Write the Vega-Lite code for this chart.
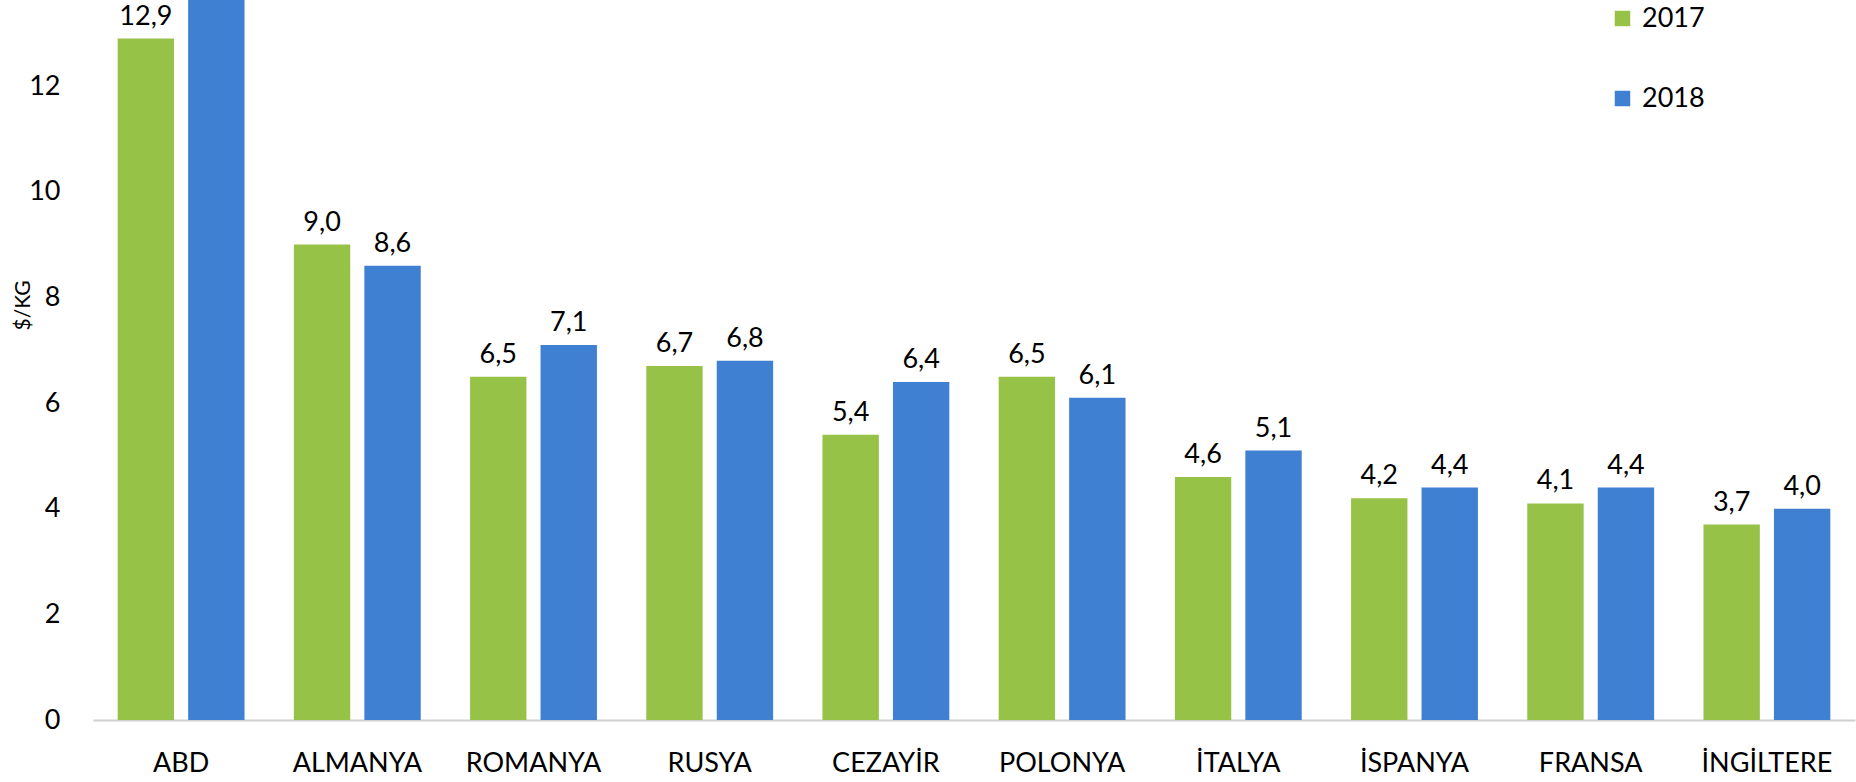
{
  "$schema": "https://vega.github.io/schema/vega-lite/v6.json",
  "autosize": "none",
  "width": 1762,
  "height": 720,
  "padding": {"left": 93, "top": 0, "right": 1, "bottom": 62},
  "background": "white",
  "config": {
    "locale": {"number": {"decimal": ",", "thousands": ".", "grouping": [3], "currency": ["", " $"]}},
    "view": {"stroke": null},
    "font": "Lato"
  },
  "data": {
    "values": [
      {"ulke": "ABD", "yil": "2017", "deger": 12.9},
      {"ulke": "ABD", "yil": "2018", "deger": 15.0},
      {"ulke": "ALMANYA", "yil": "2017", "deger": 9.0},
      {"ulke": "ALMANYA", "yil": "2018", "deger": 8.6},
      {"ulke": "ROMANYA", "yil": "2017", "deger": 6.5},
      {"ulke": "ROMANYA", "yil": "2018", "deger": 7.1},
      {"ulke": "RUSYA", "yil": "2017", "deger": 6.7},
      {"ulke": "RUSYA", "yil": "2018", "deger": 6.8},
      {"ulke": "CEZAYİR", "yil": "2017", "deger": 5.4},
      {"ulke": "CEZAYİR", "yil": "2018", "deger": 6.4},
      {"ulke": "POLONYA", "yil": "2017", "deger": 6.5},
      {"ulke": "POLONYA", "yil": "2018", "deger": 6.1},
      {"ulke": "İTALYA", "yil": "2017", "deger": 4.6},
      {"ulke": "İTALYA", "yil": "2018", "deger": 5.1},
      {"ulke": "İSPANYA", "yil": "2017", "deger": 4.2},
      {"ulke": "İSPANYA", "yil": "2018", "deger": 4.4},
      {"ulke": "FRANSA", "yil": "2017", "deger": 4.1},
      {"ulke": "FRANSA", "yil": "2018", "deger": 4.4},
      {"ulke": "İNGİLTERE", "yil": "2017", "deger": 3.7},
      {"ulke": "İNGİLTERE", "yil": "2018", "deger": 4.0}
    ]
  },
  "encoding": {
    "x": {
      "field": "ulke", "type": "nominal", "sort": null,
      "scale": {"paddingInner": 0.28, "paddingOuter": 0.14},
      "axis": {
        "title": null, "labelAngle": 0, "labelFontSize": 27, "labelColor": "black",
        "ticks": false, "labelPadding": 30, "domainColor": "#d0d0d0", "domainWidth": 2,
        "labelFont": "Lato"
      }
    },
    "xOffset": {"field": "yil", "type": "nominal", "scale": {"paddingInner": 0.2}},
    "y": {
      "field": "deger", "type": "quantitative",
      "scale": {"domain": [0, 13.63], "nice": false, "zero": true},
      "axis": {
        "title": "$/KG", "titleFontSize": 21, "titleFontWeight": "normal", "titleColor": "black",
        "titleX": -60, "titleY": 305, "titleAngle": -90,
        "values": [0, 2, 4, 6, 8, 10, 12], "format": "d",
        "labelFontSize": 27, "labelColor": "black", "labelPadding": 33,
        "ticks": false, "domain": false, "grid": false
      }
    }
  },
  "layer": [
    {
      "mark": {"type": "bar", "clip": true},
      "encoding": {
        "color": {
          "field": "yil", "type": "nominal",
          "scale": {"domain": ["2017", "2018"], "range": ["#97c248", "#3f80d2"]},
          "legend": {
            "title": null, "orient": "none", "legendX": 1516, "legendY": 5,
            "symbolType": "square", "symbolSize": 240, "labelFontSize": 27,
            "labelColor": "black", "rowPadding": 52, "labelOffset": 6
          }
        }
      }
    },
    {
      "mark": {"type": "text", "baseline": "bottom", "dy": -8, "fontSize": 27, "color": "black"},
      "encoding": {
        "text": {"field": "deger", "type": "quantitative", "format": ".1f"}
      }
    }
  ]
}
